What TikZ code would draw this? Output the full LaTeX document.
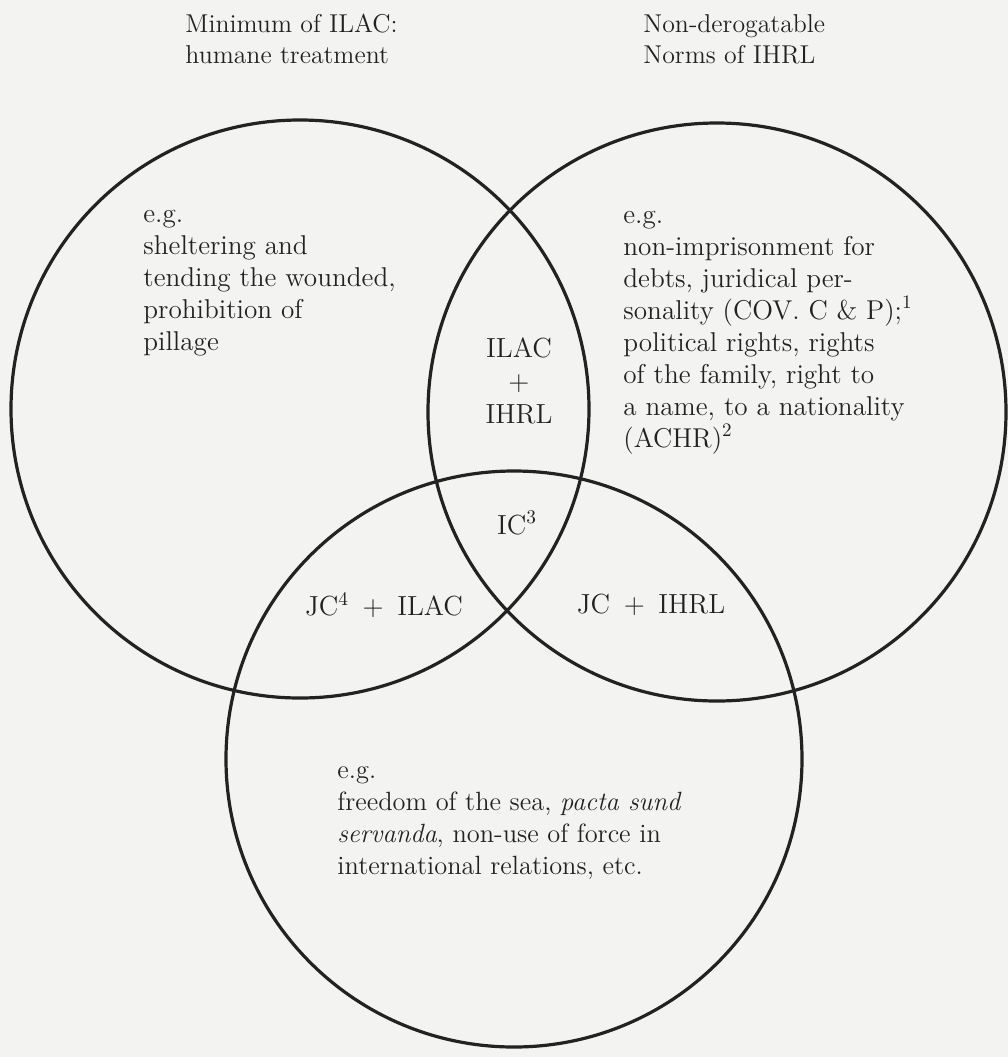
\documentclass[tikz,border=0pt]{standalone}
\usepackage{fontspec}
\definecolor{ink}{HTML}{222222}
\definecolor{paper}{HTML}{F3F3F1}
\begin{document}
\begin{tikzpicture}[x=0.5pt,y=-0.5pt,
  ring/.style={draw=ink, line width=1.6pt},
  body/.style={text=ink, inner sep=0pt, align=left, anchor=base west, font=\fontsize{13.6}{16}\selectfont},
  head/.style={body, font=\fontsize{12.9}{15.5}\selectfont},
  mid/.style={text=ink, inner sep=0pt, align=center, anchor=center, font=\fontsize{13.8}{16.3}\selectfont},
  low/.style={text=ink, inner sep=0pt, align=left, anchor=base west, font=\fontsize{13.2}{16}\selectfont}]
\fill[paper] (0,0) rectangle (1008,1057);
\useasboundingbox (0,0) rectangle (1008,1057);
% circles
\draw[ring] (300,409) circle[radius=289];
\draw[ring] (717,412) circle[radius=289];
\draw[ring] (514,759) circle[radius=288];
% headings
\node[head] (hleft) at (185,63) {Minimum of ILAC:\\humane treatment};
\node[head] (hright) at (643,63) {Non-derogatable\\Norms of IHRL};
% circle texts
\node[body] (tleft) at (143,350) {e.g.\\sheltering and\\tending the wounded,\\prohibition of\\pillage};
\node[body] (tright) at (623,447) {e.g.\\non-imprisonment for\\debts, juridical per-\\sonality (COV.\ C \& P);\textsuperscript{1}\\political rights, rights\\of the family, right to\\a name, to a nationality\\(ACHR)\textsuperscript{2}};
\node[mid] (both) at (519,381) {ILAC\\+\\IHRL};
\node[mid] (ic) at (517,523) {IC\textsuperscript{3}};
\node[mid] (jcilac) at (384,605) {JC\textsuperscript{4} \,+\, ILAC};
\node[mid] (jcihrl) at (651,605) {JC \,+\, IHRL};
\node[low] (tlow) at (337,874) {e.g.\\freedom of the sea, \textit{pacta sund}\\\textit{servanda}, non-use of force in\\international relations, etc.};
\end{tikzpicture}
\end{document}
